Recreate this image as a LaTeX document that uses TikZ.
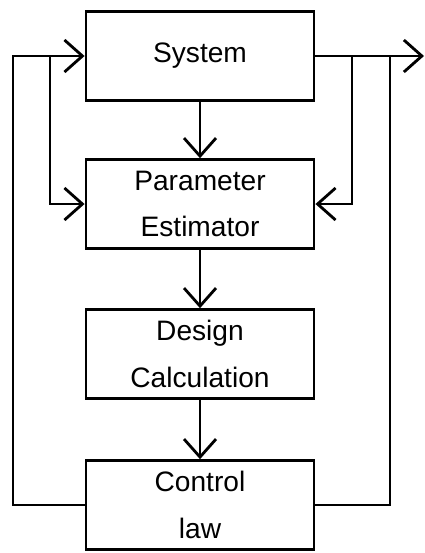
\documentclass[tikz,border=0pt]{standalone}
\usepackage{fontspec}
\setmainfont{Liberation Sans}
\usetikzlibrary{arrows.meta}
\begin{document}
\begin{tikzpicture}[x=0.025cm, y=-0.025cm, line width=2pt,
  every node/.style={font=\fontsize{20}{33}\selectfont, align=center},
  blk/.style={draw, line width=2pt, minimum width=5.7cm, minimum height=2.22cm, inner sep=0pt},
  >={Straight Barb[length=0.45cm, width=0.8cm]}]
\useasboundingbox (0,0) rectangle (425,553);
\node[blk] (sys) at (200,56) {System};
\node[blk] (est) at (200,204) {Parameter\\Estimator};
\node[blk] (des) at (200,354) {Design\\Calculation};
\node[blk] (law) at (200,505) {Control\\law};

% branch points on the input and output lines
\coordinate (lo) at (13,56);
\coordinate (li) at (50,56);
\coordinate (ri) at (352,56);
\coordinate (ro) at (390,56);
\coordinate (out) at (424,56);

\draw[->] (sys) -- (est);
\draw[->] (est) -- (des);
\draw[->] (des) -- (law);
\draw[->] (sys.east) -- (out);
\draw[->] (law.west) -| (lo) -- (sys.west);
\draw[->] (li) |- (est.west);
\draw[->] (ri) |- (est.east);
\draw (ro) |- (law.east);
\end{tikzpicture}
\end{document}
